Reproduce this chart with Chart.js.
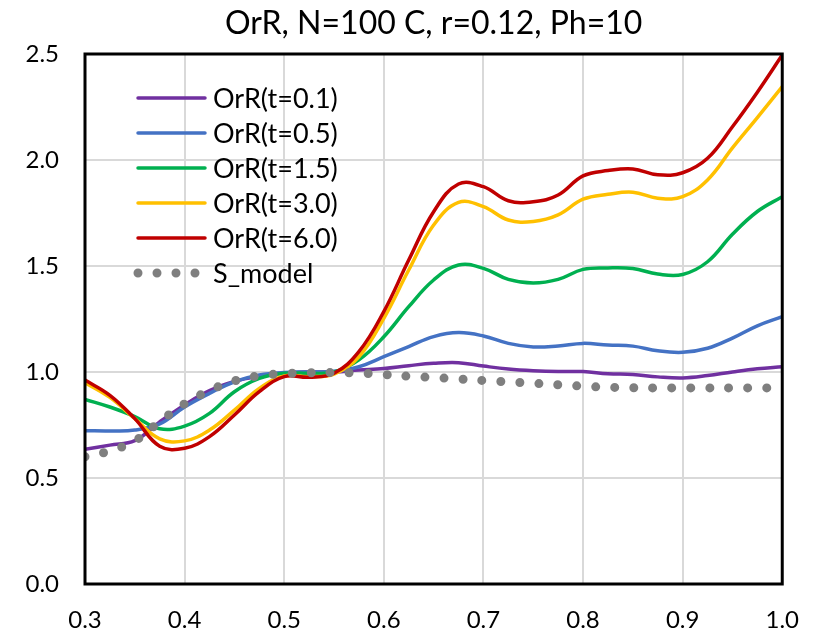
<!DOCTYPE html>
<html>
<head>
<meta charset="utf-8">
<script src="https://cdn.jsdelivr.net/npm/chart.js@4.4.1/dist/chart.umd.min.js"></script>
<style>
  html, body { margin: 0; padding: 0; background: #fff; }
</style>
</head>
<body>
<canvas id="myChart" width="821" height="632"></canvas>
<script>
// x positions of the readings
const xs = [0.3, 0.325, 0.35, 0.375, 0.4, 0.425, 0.45, 0.475, 0.5, 0.525, 0.55, 0.575, 0.6, 0.625, 0.65,
            0.675, 0.7, 0.725, 0.75, 0.775, 0.8, 0.825, 0.85, 0.875, 0.9, 0.925, 0.95, 0.975, 1.0];

const orr01 = [0.635, 0.655, 0.676, 0.765, 0.845, 0.912, 0.955, 0.98, 0.995, 1.0, 1.0, 1.009, 1.017, 1.03, 1.041,
               1.044, 1.028, 1.014, 1.006, 1.002, 1.002, 0.992, 0.988, 0.977, 0.972, 0.983, 1.0, 1.015, 1.025];
const orr05 = [0.723, 0.722, 0.726, 0.755, 0.835, 0.899, 0.954, 0.986, 0.998, 1.0, 1.003, 1.025, 1.072, 1.12, 1.167,
               1.186, 1.17, 1.135, 1.118, 1.123, 1.135, 1.127, 1.122, 1.1, 1.093, 1.112, 1.16, 1.218, 1.261];
const orr15 = [0.871, 0.835, 0.79, 0.732, 0.745, 0.805, 0.907, 0.97, 0.994, 0.994, 1.0, 1.057, 1.166, 1.308, 1.434,
               1.505, 1.489, 1.437, 1.42, 1.437, 1.484, 1.491, 1.488, 1.462, 1.46, 1.52, 1.65, 1.757, 1.827];
const orr30 = [0.95, 0.88, 0.78, 0.685, 0.675, 0.726, 0.82, 0.923, 0.981, 0.978, 0.99, 1.072, 1.253, 1.481, 1.693,
               1.80, 1.78, 1.717, 1.71, 1.741, 1.815, 1.838, 1.848, 1.82, 1.827, 1.906, 2.057, 2.2, 2.346];
const orr60 = [0.962, 0.89, 0.78, 0.65, 0.64, 0.695, 0.797, 0.907, 0.978, 0.975, 0.994, 1.096, 1.285, 1.528, 1.756,
               1.887, 1.874, 1.808, 1.803, 1.835, 1.925, 1.95, 1.958, 1.93, 1.94, 2.008, 2.157, 2.32, 2.495];
const sModel = [0.60, 0.628, 0.675, 0.765, 0.85, 0.912, 0.958, 0.982, 0.992, 0.996, 0.997, 0.995, 0.988, 0.98, 0.974,
                0.967, 0.96, 0.953, 0.947, 0.94, 0.933, 0.928, 0.926, 0.925, 0.925, 0.925, 0.925, 0.925, 0.925];

const seriesNames = ['OrR(t=0.1)', 'OrR(t=0.5)', 'OrR(t=1.5)', 'OrR(t=3.0)', 'OrR(t=6.0)', 'S_model'];

const xTicks = [0.3, 0.4, 0.5, 0.6, 0.7, 0.8, 0.9, 1.0];
const xTickLabels = ['0.3', '0.4', '0.5', '0.6', '0.7', '0.8', '0.9', '1.0'];
const yTicks = [0, 0.5, 1.0, 1.5, 2.0, 2.5];
const yTickLabels = ['0.0', '0.5', '1.0', '1.5', '2.0', '2.5'];

const titleText = 'OrR, N=100 C, r=0.12, Ph=10';
const FONT = 'Lato';

function pts(arr) {
  return xs.map((x, i) => ({ x: x, y: arr[i] }));
}

function lineSet(label, arr, color, order) {
  return {
    label: label,
    data: pts(arr),
    borderColor: color,
    backgroundColor: color,
    borderWidth: 3.5,
    borderCapStyle: 'round',
    pointRadius: 0,
    tension: 0.4,
    fill: false,
    order: order
  };
}

// frame, title and legend drawn by hand (Excel style)
const excelBits = {
  id: 'excelBits',
  afterDatasetsDraw(chart) {
    const ctx = chart.ctx;
    const a = chart.chartArea;
    ctx.save();
    ctx.strokeStyle = '#000';
    ctx.lineWidth = 3;
    ctx.strokeRect(a.left, a.top, a.right - a.left, a.bottom - a.top);

    ctx.fillStyle = '#000';
    ctx.font = '32px ' + FONT;
    ctx.textAlign = 'center';
    ctx.textBaseline = 'middle';
    ctx.fillText(titleText, (a.left + a.right) / 2, 24);

    ctx.textAlign = 'left';
    ctx.font = '27px ' + FONT;
    chart.data.datasets.forEach((ds, i) => {
      const y = a.top + 44 + i * 35;
      ctx.beginPath();
      ctx.strokeStyle = ds.borderColor;
      ctx.lineWidth = ds.borderWidth;
      ctx.lineCap = ds.borderCapStyle || 'butt';
      ctx.setLineDash(ds.borderDash || []);
      ctx.moveTo(a.left + 53, y);
      ctx.lineTo(a.left + 120, y);
      ctx.stroke();
      ctx.setLineDash([]);
      ctx.fillText(ds.label, a.left + 128, y + 1);
    });
    ctx.restore();
  }
};

const ctx = document.getElementById('myChart').getContext('2d');

let sDots = lineSet(seriesNames[5], sModel, '#7F7F7F', 1);
sDots.borderWidth = 9;
sDots.borderDash = [0, 19];

let myChart = new Chart(ctx, {
  type: 'line',
  data: {
    datasets: [
      lineSet(seriesNames[0], orr01, '#7030A0', 6),
      lineSet(seriesNames[1], orr05, '#4472C4', 5),
      lineSet(seriesNames[2], orr15, '#00B050', 4),
      lineSet(seriesNames[3], orr30, '#FFC000', 3),
      lineSet(seriesNames[4], orr60, '#C00000', 2),
      sDots
    ]
  },
  options: {
    responsive: false,
    animation: false,
    devicePixelRatio: 1,
    layout: { padding: { top: 54, right: 35, bottom: 0, left: 0 } },
    plugins: {
      legend: { display: false },
      title: { display: false },
      tooltip: { enabled: false }
    },
    scales: {
      x: {
        type: 'linear',
        min: 0.3,
        max: 1.0,
        afterBuildTicks: (scale) => { scale.ticks = xTicks.map(v => ({ value: v })); },
        afterFit: (scale) => { scale.height = 48; },
        grid: { color: '#D9D9D9', lineWidth: 2, drawTicks: false },
        border: { display: false },
        ticks: {
          autoSkip: false,
          maxRotation: 0,
          padding: 22,
          color: '#000',
          font: { family: FONT, size: 24 },
          callback: (v, i) => xTickLabels[i]
        }
      },
      y: {
        min: 0,
        max: 2.5,
        afterBuildTicks: (scale) => { scale.ticks = yTicks.map(v => ({ value: v })); },
        afterFit: (scale) => { scale.width = 85; },
        grid: { color: '#D9D9D9', lineWidth: 2, drawTicks: false },
        border: { display: false },
        ticks: {
          padding: 26,
          color: '#000',
          font: { family: FONT, size: 24 },
          callback: (v, i) => yTickLabels[i]
        }
      }
    }
  },
  plugins: [excelBits]
});
</script>
</body>
</html>
